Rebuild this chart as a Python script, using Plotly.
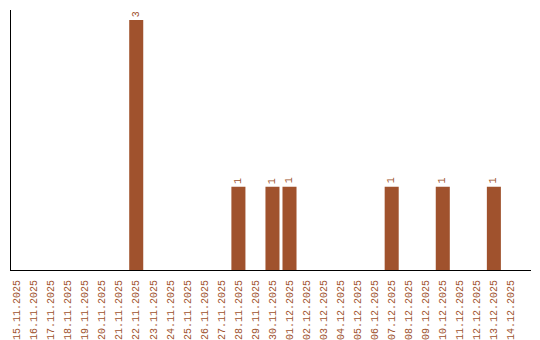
import plotly.graph_objects as go

dates = ["15.11.2025", "16.11.2025", "17.11.2025", "18.11.2025", "19.11.2025",
         "20.11.2025", "21.11.2025", "22.11.2025", "23.11.2025", "24.11.2025",
         "25.11.2025", "26.11.2025", "27.11.2025", "28.11.2025", "29.11.2025",
         "30.11.2025", "01.12.2025", "02.12.2025", "03.12.2025", "04.12.2025",
         "05.12.2025", "06.12.2025", "07.12.2025", "08.12.2025", "09.12.2025",
         "10.12.2025", "11.12.2025", "12.12.2025", "13.12.2025", "14.12.2025"]
counts = [0, 0, 0, 0, 0, 0, 0, 3, 0, 0, 0, 0, 0, 1, 0,
          1, 1, 0, 0, 0, 0, 0, 1, 0, 0, 1, 0, 0, 1, 0]

color = "#A0522D"
font = "Liberation Mono"

fig = go.Figure(go.Bar(x=dates, y=counts, marker=dict(color=color, line=dict(width=0)),
                       hoverinfo="skip"))

for d, c in zip(dates, counts):
    if c > 0:
        fig.add_annotation(x=d, y=c, text=str(c), textangle=-90, showarrow=False,
                           yanchor="bottom", yshift=1,
                           font=dict(family=font, size=10, color=color))

fig.update_layout(
    width=540, height=340,
    margin=dict(l=11, r=9, t=10, b=70),
    paper_bgcolor="white", plot_bgcolor="white",
    bargap=0.176,
    showlegend=False,
    xaxis=dict(type="category", range=[-0.353, 30.18], tickangle=-90,
               automargin=False,
               showgrid=False, zeroline=False, showline=True, linecolor="black",
               linewidth=1, ticks="", ticklabelstandoff=5,
               tickfont=dict(family=font, size=10, color=color)),
    yaxis=dict(range=[0, 3.12], showgrid=False, zeroline=False, showline=True,
               automargin=False,
               linecolor="black", linewidth=1, showticklabels=False, ticks=""),
)

fig.write_html("out.html")
